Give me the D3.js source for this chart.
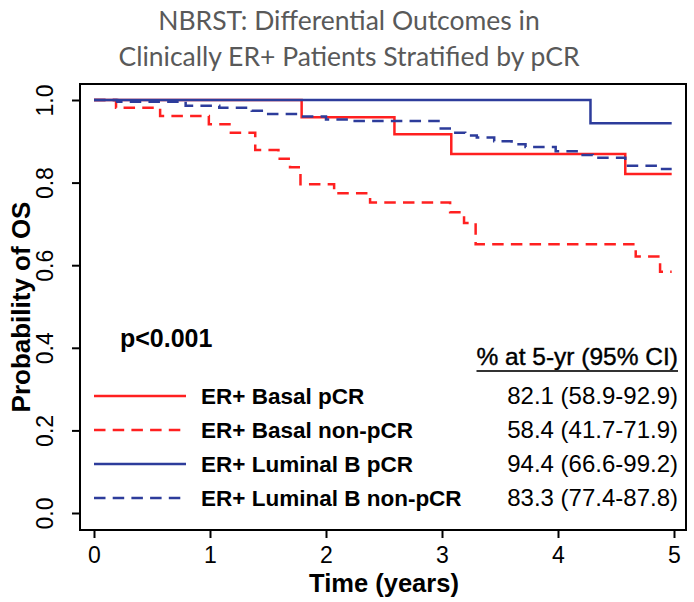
<!DOCTYPE html>
<html>
<head>
<meta charset="utf-8">
<script src="https://cdn.jsdelivr.net/npm/d3@7/dist/d3.min.js"></script>
<style>
  html, body { margin: 0; padding: 0; background: #fff; }
  svg { display: block; }
</style>
</head>
<body>
<svg id="chart" width="694" height="602"></svg>
<script>
// ---------------- DATA ----------------
const titleLines = ["NBRST: Differential Outcomes in", "Clinically ER+ Patients Stratified by pCR"];
const xTicks = [0, 1, 2, 3, 4, 5];
const yTicks = [0.0, 0.2, 0.4, 0.6, 0.8, 1.0];
const yTickLabels = ["0.0", "0.2", "0.4", "0.6", "0.8", "1.0"];

const seriesNames = ["ER+ Basal pCR", "ER+ Basal non-pCR", "ER+ Luminal B pCR", "ER+ Luminal B non-pCR"];
const seriesStats = ["82.1 (58.9-92.9)", "58.4 (41.7-71.9)", "94.4 (66.6-99.2)", "83.3 (77.4-87.8)"];
const seriesColors = ["#ff2020", "#ff2020", "#2d3c9b", "#2d3c9b"];
const seriesDashed = [false, true, false, true];

// Kaplan-Meier step data (time in years, survival after step)
const basalPcrTimes = [0, 1.79, 2.59, 3.08, 4.58, 4.98];
const basalPcrSurv  = [1.0, 0.958, 0.917, 0.869, 0.821, 0.821];

const basalNonTimes = [0, 0.19, 0.57, 0.99, 1.18, 1.39, 1.59, 1.69, 1.78, 2.07, 2.38, 3.07, 3.19, 3.29, 4.67, 4.88, 4.98];
const basalNonSurv  = [1.0, 0.981, 0.961, 0.941, 0.921, 0.879, 0.858, 0.837, 0.796, 0.774, 0.752, 0.728, 0.702, 0.651, 0.621, 0.584, 0.584];

const lumPcrTimes = [0, 4.28, 4.98];
const lumPcrSurv  = [1.0, 0.944, 0.944];

const lumNonTimes = [0, 0.2, 0.79, 1.08, 1.36, 1.48, 1.79, 2.0, 2.2, 2.97, 3.08, 3.2, 3.3, 3.45, 3.6, 3.72, 3.98, 4.18, 4.3, 4.58, 4.88, 4.98];
const lumNonSurv  = [1.0, 0.996, 0.986, 0.981, 0.974, 0.966, 0.960, 0.953, 0.949, 0.931, 0.921, 0.914, 0.909, 0.900, 0.893, 0.886, 0.876, 0.867, 0.860, 0.841, 0.833, 0.833];

const pValueText = "p<0.001";
const statsHeader = "% at 5-yr (95% CI)";
const xTitle = "Time (years)";
const yTitle = "Probability of OS";

// ---------------- LAYOUT ----------------
const svg = d3.select("#chart");
const box = { left: 80, right: 686, top: 84, bottom: 530 };
const x = d3.scaleLinear().domain([0, 5]).range([94, 674]);
const y = d3.scaleLinear().domain([0, 1]).range([513, 100]);

const sansFont = "'Liberation Sans', Arial, Helvetica, sans-serif";

// Title
svg.append("g").selectAll("text").data(titleLines).join("text")
  .attr("x", 349)
  .attr("y", (d, i) => 30 + i * 36)
  .attr("text-anchor", "middle")
  .attr("font-family", "Lato, 'Open Sans', sans-serif")
  .attr("font-size", 26.5)
  .attr("fill", "#595959")
  .text(d => d);

// Box
svg.append("rect")
  .attr("x", box.left).attr("y", box.top)
  .attr("width", box.right - box.left).attr("height", box.bottom - box.top)
  .attr("fill", "none").attr("stroke", "#000").attr("stroke-width", 2);

// X axis
const xAxis = d3.axisBottom(x).tickValues(xTicks).tickSize(8).tickFormat(d3.format("d"));
const gx = svg.append("g").attr("transform", `translate(0,${box.bottom})`).call(xAxis);
gx.select(".domain").attr("d", `M${x(0)},0H${x(5)}`).attr("stroke", "#000").attr("stroke-width", 2);
gx.selectAll(".tick line").attr("stroke", "#000").attr("stroke-width", 2);
gx.selectAll(".tick text").attr("font-family", sansFont).attr("font-size", 23)
  .attr("fill", "#000").attr("dy", "0").attr("y", 33);

// Y axis
const yAxis = d3.axisLeft(y).tickValues(yTicks).tickSize(8).tickFormat((d, i) => yTickLabels[i]);
const gy = svg.append("g").attr("transform", `translate(${box.left},0)`).call(yAxis);
gy.select(".domain").attr("d", `M0,${y(0)}V${y(1)}`).attr("stroke", "#000").attr("stroke-width", 2);
gy.selectAll(".tick line").attr("stroke", "#000").attr("stroke-width", 2);
gy.selectAll(".tick text")
  .attr("font-family", sansFont).attr("font-size", 23).attr("fill", "#000")
  .attr("x", null).attr("dy", null)
  .attr("text-anchor", "middle")
  .attr("transform", "translate(-27,0) rotate(-90)");

// Axis titles
svg.append("text")
  .attr("x", (x(0) + x(5)) / 2).attr("y", 592)
  .attr("text-anchor", "middle")
  .attr("font-family", sansFont).attr("font-weight", "bold").attr("font-size", 25.5)
  .text(xTitle);

svg.append("text")
  .attr("transform", `translate(30,${(box.top + box.bottom) / 2}) rotate(-90)`)
  .attr("text-anchor", "middle")
  .attr("font-family", sansFont).attr("font-weight", "bold").attr("font-size", 26)
  .text(yTitle);

// Curves
const series = [
  { t: basalPcrTimes, s: basalPcrSurv },
  { t: basalNonTimes, s: basalNonSurv },
  { t: lumPcrTimes, s: lumPcrSurv },
  { t: lumNonTimes, s: lumNonSurv }
];
const line = d3.line().curve(d3.curveStepAfter).x(d => x(d[0])).y(d => y(d[1]));
const dashPattern = "11.5,7.2";

svg.append("g").selectAll("path").data(series).join("path")
  .attr("d", d => line(d.t.map((t, i) => [t, d.s[i]])))
  .attr("fill", "none")
  .attr("stroke", (d, i) => seriesColors[i])
  .attr("stroke-width", 2.5)
  .attr("stroke-dasharray", (d, i) => seriesDashed[i] ? dashPattern : null);

// p-value
svg.append("text")
  .attr("x", 120).attr("y", 347)
  .attr("font-family", sansFont).attr("font-weight", "bold").attr("font-size", 25)
  .text(pValueText);

// Stats header (underlined)
const hdr = svg.append("text")
  .attr("x", 678).attr("y", 365)
  .attr("text-anchor", "end")
  .attr("font-family", sansFont).attr("font-size", 24.5)
  .attr("stroke", "#000").attr("stroke-width", 0.4)
  .text(statsHeader);
const hb = hdr.node().getBBox();
svg.append("line")
  .attr("x1", hb.x).attr("x2", hb.x + hb.width)
  .attr("y1", 371).attr("y2", 371)
  .attr("stroke", "#333").attr("stroke-width", 2);

// Legend
const rowY = d3.scalePoint().domain(seriesNames).range([396, 498]);
const lg = svg.append("g");
seriesNames.forEach((name, i) => {
  const yy = rowY(name);
  lg.append("line")
    .attr("x1", 94).attr("x2", 186).attr("y1", yy).attr("y2", yy)
    .attr("stroke", seriesColors[i]).attr("stroke-width", 2.5)
    .attr("stroke-dasharray", seriesDashed[i] ? dashPattern : null);
  lg.append("text")
    .attr("x", 201).attr("y", yy + 8)
    .attr("font-family", sansFont).attr("font-weight", "bold").attr("font-size", 22.5)
    .text(name);
  lg.append("text")
    .attr("x", 678).attr("y", yy + 8)
    .attr("text-anchor", "end")
    .attr("font-family", sansFont).attr("font-size", 24)
    .text(seriesStats[i]);
});
</script>
</body>
</html>
